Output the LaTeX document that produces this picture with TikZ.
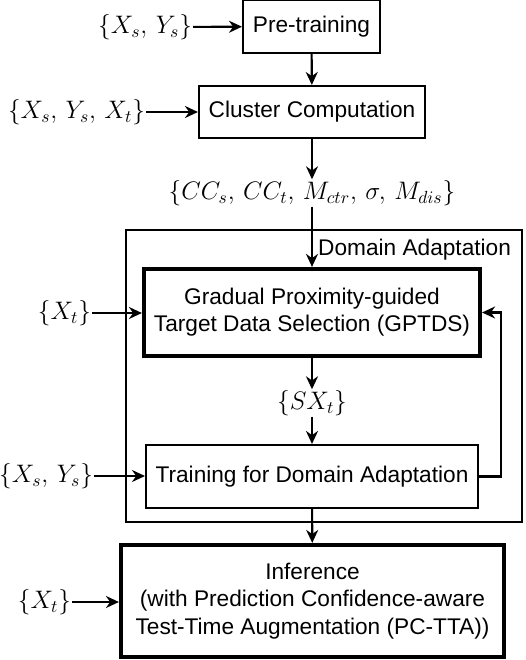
\documentclass[tikz,border=0pt]{standalone}
\usepackage{amsmath}
\usepackage{fontspec}
\setmainfont{Liberation Sans}
\usetikzlibrary{arrows.meta}

\tikzset{
  blk/.style={shape=rectangle,draw=black,line width=1.2pt,align=center,inner sep=0pt},
  bigblk/.style={blk,line width=2.4pt},
  lbl/.style={inner sep=0pt,font=\fontsize{14.7}{17}\selectfont}
}

\begin{document}
\begin{tikzpicture}[x=0.02cm,y=-0.02cm,>={Stealth[length=0.26cm,width=0.24cm]},line width=1.2pt,
  font=\fontsize{12.9}{15.5}\selectfont]
  \useasboundingbox (0,0) rectangle (525,660);

  % outer box
  \node[blk,minimum width=7.92cm,minimum height=5.84cm] (da) at (324,376) {};
  \node[inner sep=0pt,anchor=north east] (dalbl) at (512,238) {Domain Adaptation};

  % blocks
  \node[blk,minimum width=2.74cm,minimum height=1.06cm] (pre) at (311.5,26.5) {Pre-training};
  \node[blk,minimum width=4.52cm,minimum height=1.04cm] (clu) at (312,112) {Cluster Computation};
  \node[lbl] (cc) at (312,193) {$\{CC_s,\,CC_t,\,M_{ctr},\,\sigma,\,M_{dis}\}$};
  \node[bigblk,minimum width=6.72cm,minimum height=1.74cm] (sel) at (312,312.5)
    {Gradual Proximity-guided\\Target Data Selection (GPTDS)};
  \node[lbl] (sx) at (312,403) {$\{SX_t\}$};
  \node[blk,minimum width=6.64cm,minimum height=1.26cm] (tr) at (312,476.5) {Training for Domain Adaptation};
  \node[bigblk,minimum width=7.66cm,minimum height=2.24cm] (inf) at (312.5,601)
    {Inference\\(with Prediction Confidence-aware\\Test-Time Augmentation (PC-TTA))};

  % inputs
  \node[lbl,anchor=east] (in1) at (193,27) {$\{X_s,\,Y_s\}$};
  \node[lbl,anchor=east] (in2) at (146,112) {$\{X_s,\,Y_s,\,X_t\}$};
  \node[lbl,anchor=east] (in3) at (92,313) {$\{X_t\}$};
  \node[lbl,anchor=east] (in4) at (94,476) {$\{X_s,\,Y_s\}$};
  \node[lbl,anchor=east] (in5) at (72,602) {$\{X_t\}$};

  % edges
  \draw[->] (in1) -- (pre);
  \draw[->] (in2) -- (clu);
  \draw[->] (in3) -- (in3 -| sel.west);
  \draw[->] (in4) -- (in4 -| tr.west);
  \draw[->] (in5) -- (in5 -| inf.west);
  \draw[->] (pre) -- (clu);
  \draw[->] (clu) -- (cc);
  \draw[->] (cc) -- (sel);
  \draw[->] (sel) -- (sx);
  \draw[->] (sx) -- (tr);
  \draw[->] (tr) -- (inf);
  \draw[->] (tr.east) -- ++(22,0) |- (sel.east);
\end{tikzpicture}
\end{document}
